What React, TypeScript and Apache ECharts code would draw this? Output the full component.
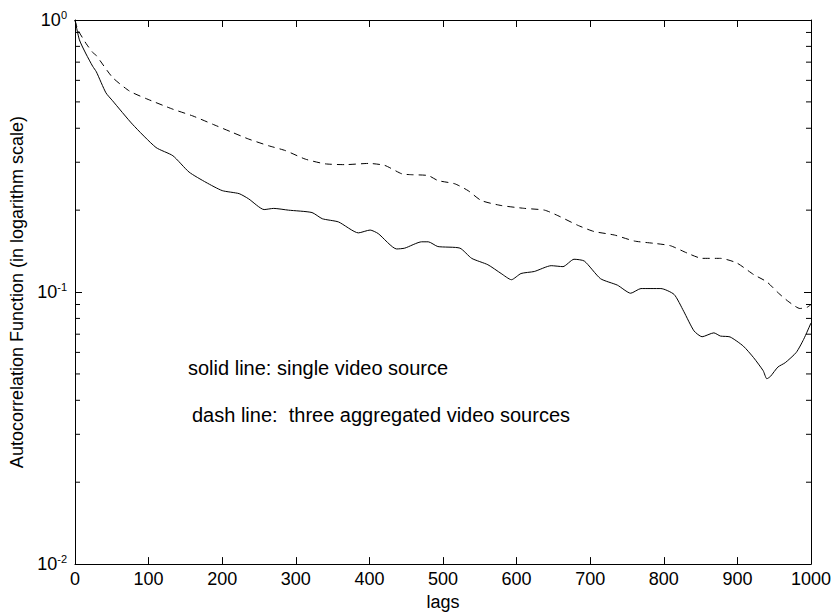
import React, { useEffect, useRef } from "react";
import * as echarts from "echarts";

const xTicks = [0, 100, 200, 300, 400, 500, 600, 700, 800, 900, 1000];
const yMinorTicks = [0.02, 0.03, 0.04, 0.05, 0.06, 0.07, 0.08, 0.09, 0.2, 0.3, 0.4, 0.5, 0.6, 0.7, 0.8, 0.9];

const solidLags = [0, 6, 15, 24, 29, 42, 51, 78, 110, 133, 155, 178, 200, 223, 236, 257, 270, 290, 322, 336, 358, 385, 401, 412, 437, 448, 471, 480, 493, 523, 539, 561, 579, 593, 606, 624, 647, 663, 678, 692, 714, 737, 755, 769, 796, 814, 827, 841, 852, 868, 877, 890, 908, 922, 935, 940, 945, 955, 965, 980, 990, 1000];
const solidValues = [1.0, 0.845, 0.75, 0.676, 0.645, 0.54, 0.505, 0.414, 0.34, 0.317, 0.276, 0.253, 0.236, 0.23, 0.22, 0.201, 0.203, 0.2, 0.196, 0.186, 0.181, 0.165, 0.169, 0.164, 0.144, 0.145, 0.153, 0.153, 0.147, 0.145, 0.133, 0.126, 0.117, 0.111, 0.117, 0.119, 0.125, 0.124, 0.132, 0.13, 0.112, 0.106, 0.099, 0.103, 0.103, 0.098, 0.085, 0.072, 0.0685, 0.0708, 0.0689, 0.0684, 0.0633, 0.0574, 0.0514, 0.048, 0.049, 0.053, 0.055, 0.06, 0.067, 0.077];

const dashLags = [0, 4, 15, 24, 29, 51, 74, 96, 133, 160, 187, 214, 236, 263, 286, 313, 340, 367, 399, 421, 444, 457, 480, 493, 516, 534, 552, 579, 611, 638, 656, 683, 705, 733, 760, 787, 809, 832, 852, 877, 899, 922, 940, 956, 970, 985, 995, 1000];
const dashValues = [1.0, 0.92, 0.82, 0.76, 0.74, 0.615, 0.548, 0.515, 0.47, 0.444, 0.414, 0.386, 0.365, 0.345, 0.331, 0.308, 0.296, 0.294, 0.297, 0.292, 0.272, 0.27, 0.268, 0.257, 0.25, 0.236, 0.217, 0.208, 0.203, 0.2, 0.191, 0.176, 0.167, 0.162, 0.154, 0.151, 0.148, 0.139, 0.133, 0.133, 0.128, 0.116, 0.109, 0.099, 0.092, 0.087, 0.088, 0.09];

const annotations = ["solid line: single video source", "dash line:  three aggregated video sources"];

const FONT = "'Liberation Sans', Arial, Helvetica, sans-serif";

export default function App() {
  const ref = useRef<HTMLDivElement>(null);
  useEffect(() => {
    if (!ref.current) return;
    const chart = echarts.init(ref.current, undefined, { renderer: "svg" });
    const axisLine = { show: true, onZero: false, lineStyle: { color: "#000", width: 1 } };
    const yLog = (pos: "left" | "right", labels: boolean) => ({
      type: "log",
      logBase: 10,
      min: 0.01,
      max: 1,
      position: pos,
      axisLine,
      axisTick: { show: true, inside: true, length: 7, lineStyle: { color: "#000" } },
      splitLine: { show: false },
      axisLabel: {
        show: labels,
        margin: 8,
        fontFamily: FONT,
        formatter: (v: number) => "{b|10}{s|" + Math.round(Math.log10(v)) + "}",
        rich: {
          b: { fontSize: 18, fontFamily: FONT, color: "#000" },
          s: { fontSize: 11, fontFamily: FONT, color: "#000", padding: [0, 0, 11, 0] },
        },
      },
    });
    const xAx = (pos: "bottom" | "top", labels: boolean) => ({
      type: "value",
      min: xTicks[0],
      max: xTicks[xTicks.length - 1],
      interval: xTicks[1] - xTicks[0],
      position: pos,
      axisLine,
      axisTick: { show: true, inside: true, length: 7, lineStyle: { color: "#000" } },
      splitLine: { show: false },
      axisLabel: { show: labels, color: "#000", fontSize: 18, fontFamily: FONT, margin: 6, formatter: (v: number) => String(v) },
    });
    chart.setOption({
      animation: false,
      backgroundColor: "#fff",
      grid: { left: 72, right: 25, top: 20, bottom: 48, containLabel: false },
      xAxis: [
        { ...xAx("bottom", true), name: "lags", nameLocation: "middle", nameGap: 27, nameTextStyle: { color: "#000", fontSize: 18, fontFamily: FONT } },
        xAx("top", false),
      ],
      yAxis: [
        { ...yLog("left", true), name: "Autocorrelation Function (in logarithm scale)", nameLocation: "middle", nameRotate: 90, nameGap: 49, nameTextStyle: { color: "#000", fontSize: 18, fontFamily: FONT } },
        yLog("right", false),
      ],
      series: [
        {
          type: "line",
          data: solidLags.map((l, i) => [l, solidValues[i]]),
          showSymbol: false,
          smooth: 0.2,
          lineStyle: { color: "#000", width: 1 },
          silent: true,
        },
        {
          type: "line",
          data: dashLags.map((l, i) => [l, dashValues[i]]),
          showSymbol: false,
          smooth: 0.2,
          lineStyle: { color: "#000", width: 1, type: [7, 5] },
          silent: true,
        },
        {
          type: "custom",
          silent: true,
          clip: false,
          data: yMinorTicks.map((v) => [0, v]),
          renderItem: (_p: any, api: any) => {
            const v = api.value(1);
            const a = api.coord([xTicks[0], v]);
            const b = api.coord([xTicks[xTicks.length - 1], v]);
            const st = { stroke: "#000", lineWidth: 1 };
            return {
              type: "group",
              children: [
                { type: "line", shape: { x1: a[0], y1: a[1], x2: a[0] + 5, y2: a[1] }, style: st },
                { type: "line", shape: { x1: b[0] - 5, y1: b[1], x2: b[0], y2: b[1] }, style: st },
              ],
            };
          },
        },
      ],
      graphic: [
        { type: "text", left: 188, top: 358, style: { text: annotations[0], fontSize: 20, fontFamily: FONT, fill: "#000" } },
        { type: "text", left: 192, top: 405, style: { text: annotations[1], fontSize: 20, fontFamily: FONT, fill: "#000" } },
      ],
    });
    return () => chart.dispose();
  }, []);
  return <div ref={ref} style={{ position: "fixed", left: 0, top: 0, width: 836, height: 616, background: "#fff" }} />;
}
